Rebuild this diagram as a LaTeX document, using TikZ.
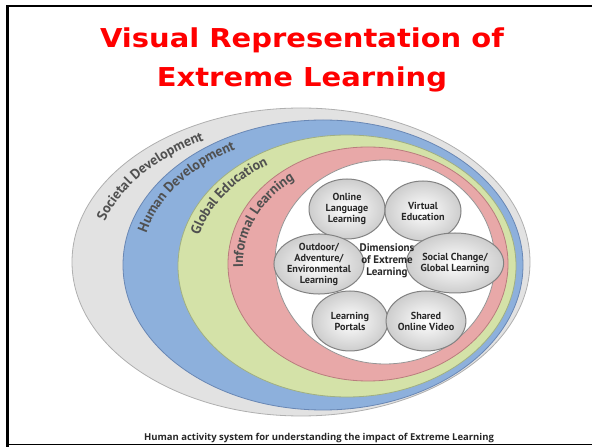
\documentclass[tikz,border=0pt]{standalone}
\usepackage{fontspec}
\setmainfont{Open Sans}
\newfontfamily\titlefont[FakeStretch=1.115]{DejaVu Sans}
\newfontfamily\labfont{PT Sans}
\usetikzlibrary{shapes.geometric,decorations.text}
\definecolor{ttl}{RGB}{255,0,0}
\definecolor{gfill}{RGB}{226,226,226}
\definecolor{gline}{RGB}{175,175,175}
\definecolor{bfill}{RGB}{141,176,220}
\definecolor{bline}{RGB}{105,135,180}
\definecolor{grfill}{RGB}{212,226,168}
\definecolor{grline}{RGB}{160,175,130}
\definecolor{rfill}{RGB}{232,168,168}
\definecolor{rline}{RGB}{185,125,125}
\definecolor{wline}{RGB}{150,150,150}
\definecolor{ringtxt}{RGB}{80,80,80}
\definecolor{bubgray}{RGB}{205,205,205}
\definecolor{bubedge}{RGB}{130,130,130}
\definecolor{bubtxt}{RGB}{40,40,40}
\newcommand\ringfont{\labfont\bfseries\fontsize{14}{14}\selectfont}
\newcommand\bubfont{\labfont\bfseries\fontsize{10.2}{11}\selectfont}
\newcommand\dimfont{\labfont\bfseries\fontsize{11}{12}\selectfont}
\tikzset{
  ring/.style={line width=0.8pt},
  bub/.style={ellipse, draw=bubedge, line width=1pt, shading=radial, inner color=white,
    outer color=bubgray, minimum width=76pt, minimum height=60pt, inner sep=0pt,
    align=center, font=\bubfont, text=bubtxt},
  ringlabel/.style={decorate, decoration={text along path, text align=left, text color=ringtxt}},
}
\begin{document}
\begin{tikzpicture}[x=1pt,y=1pt]
\useasboundingbox (0,0) rectangle (592,447);
% frame
\draw[line width=3pt] (7.5,0) -- (7.5,442.2);
\draw[line width=2.4pt] (6,441) -- (592,441);
\draw[line width=1.2pt] (6,2.5) -- (592,2.5);
% title
\node[anchor=base, text=ttl, font=\titlefont\bfseries\fontsize{26}{26}\selectfont] (t1) at (302,399) {Visual Representation of};
\node[anchor=base, text=ttl, font=\titlefont\bfseries\fontsize{26}{26}\selectfont] (t2) at (302,360) {Extreme Learning};
% rings
\path[ring, draw=gline, fill=gfill] (301,185) ellipse[x radius=229pt, y radius=154pt];
\path[ring, draw=bline, fill=bfill] (323,182) ellipse[x radius=200pt, y radius=145pt];
\path[ring, draw=grline, fill=grfill] (347,181) ellipse[x radius=169pt, y radius=131pt];
\path[ring, draw=rline, fill=rfill] (368,183) ellipse[x radius=140pt, y radius=117pt];
\path[ring, draw=wline, fill=white] (385,185) ellipse[x radius=110pt, y radius=102pt];
% ring labels
\path[ringlabel, decoration={text={|\ringfont|Societal Development}}]
  ([shift={(301,185)}]163:205pt and 138pt) arc[start angle=163, end angle=50, x radius=205pt, y radius=138pt];
\path[ringlabel, decoration={text={|\ringfont|Human Development}}]
  ([shift={(323,182)}]166:182pt and 132pt) arc[start angle=166, end angle=50, x radius=182pt, y radius=132pt];
\path[ringlabel, decoration={text={|\ringfont|Global Education}}]
  ([shift={(347,181)}]165:153pt and 118pt) arc[start angle=165, end angle=50, x radius=153pt, y radius=118pt];
\path[ringlabel, decoration={text={|\ringfont|Informal Learning}}]
  ([shift={(368,183)}]182:125pt and 104pt) arc[start angle=182, end angle=50, x radius=125pt, y radius=104pt];
% bubbles
\node[bub] (ol) at (347,238) {Online\\Language\\Learning};
\node[bub] (ve) at (423,236) {Virtual\\Education};
\node[bub] (od) at (319,183) {Outdoor/\\Adventure/\\Environmental\\Learning};
\node[bub] (sc) at (455,184) {Social Change/\\Global Learning};
\node[bub] (lp) at (350,126) {Learning\\Portals};
\node[bub] (sv) at (426,126) {Shared\\Online Video};
\node[align=center, font=\dimfont, text=bubtxt] (dim) at (387,186) {Dimensions\\of Extreme\\Learning};
% caption
\node[anchor=base, font=\bfseries\fontsize{9.5}{9.5}\selectfont, text=bubtxt] (cap) at (319,6) {Human activity system for understanding the impact of Extreme Learning};
\end{tikzpicture}
\end{document}
